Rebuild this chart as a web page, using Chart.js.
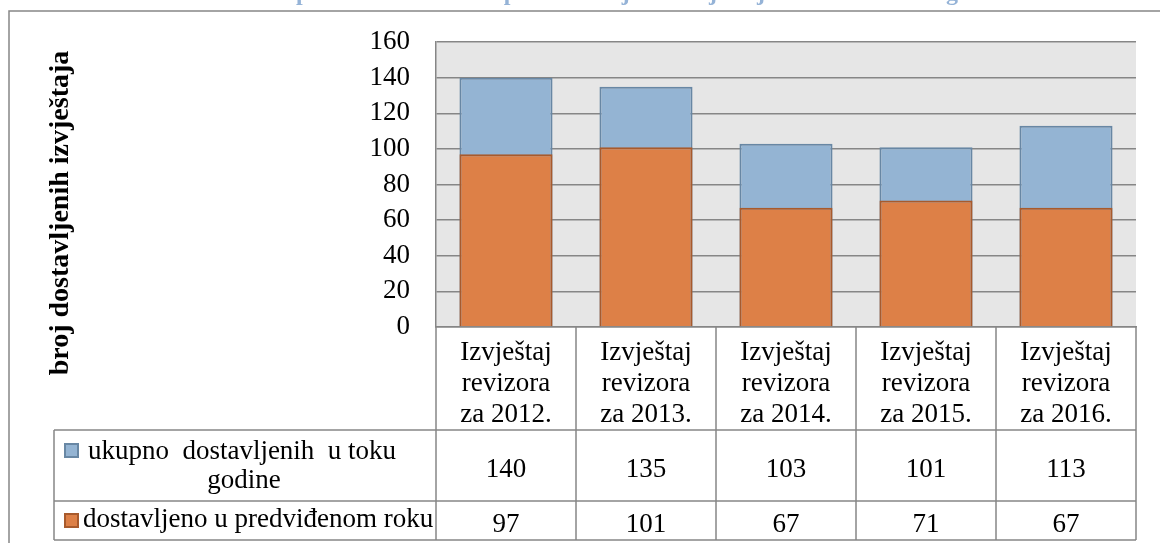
<!DOCTYPE html>
<html lang="hr">
<head>
<meta charset="utf-8">
<title>Dostavljeni izvještaji revizora</title>
<script src="https://cdn.jsdelivr.net/npm/chart.js@4.4.1/dist/chart.umd.min.js"></script>
<style>
  html, body { margin: 0; padding: 0; background: #fff; }
</style>
</head>
<body>
<canvas id="izvjestaji" width="1160" height="543"></canvas>
<script>
// Podaci sa grafikona
const naslov = "Prikaz pravovremeno i ukupno dostavljenih izvještaja revizora u toku godine";
const osY = "broj dostavljenih izvještaja";
const kategorije = [
  ["Izvještaj", "revizora", "za 2012."],
  ["Izvještaj", "revizora", "za 2013."],
  ["Izvještaj", "revizora", "za 2014."],
  ["Izvještaj", "revizora", "za 2015."],
  ["Izvještaj", "revizora", "za 2016."],
];
const ukupno = [140, 135, 103, 101, 113];
const uRoku = [97, 101, 67, 71, 67];
const legendaUkupno = ["ukupno  dostavljenih  u toku", "godine"];
const legendaURoku = "dostavljeno u predviđenom roku";
const yMin = 0;
const yMax = 160;
const yKorak = 20;

// Boje
const plava = "#94b4d3";
const plavaIvica = "#6887a4";
const narandzasta = "#dd8047";
const narandzastaIvica = "#a85a2c";
const linija = "#868686";
const font = "'Liberation Serif', 'Times New Roman', serif";

// Siva pozadina iza stubića
const pozadina = {
  id: "pozadina",
  beforeDraw(chart) {
    const { ctx, chartArea: a } = chart;
    ctx.save();
    ctx.fillStyle = "#e6e6e6";
    ctx.fillRect(a.left, a.top, a.right - a.left, a.bottom - a.top);
    ctx.restore();
  },
};

// Tabela sa podacima ispod grafikona, okvir, naslov ose i naslov
const tabela = {
  id: "tabela",
  afterDraw(chart) {
    const { ctx, chartArea: a } = chart;
    const x = chart.scales.x;
    const pola = (x.getPixelForValue(1) - x.getPixelForValue(0)) / 2;
    const red1 = 430;
    const red2 = 501;
    const dno = 540;
    const lijevo = 54;

    ctx.save();
    ctx.strokeStyle = linija;
    ctx.lineWidth = 1.5;
    ctx.beginPath();
    // okvir grafikona
    ctx.moveTo(9, 543);
    ctx.lineTo(9, 11);
    ctx.lineTo(1160, 11);
    // vertikalne linije tabele
    kategorije.forEach((k, i) => {
      const xi = x.getPixelForValue(i) - pola;
      ctx.moveTo(xi, a.bottom);
      ctx.lineTo(xi, dno);
    });
    const zadnja = x.getPixelForValue(kategorije.length - 1) + pola;
    ctx.moveTo(zadnja, a.bottom);
    ctx.lineTo(zadnja, dno);
    ctx.moveTo(lijevo, red1);
    ctx.lineTo(lijevo, dno);
    // horizontalne linije tabele
    [red1, red2, dno].forEach((y) => {
      ctx.moveTo(lijevo, y);
      ctx.lineTo(zadnja, y);
    });
    ctx.stroke();

    // vrijednosti
    ctx.fillStyle = "#000";
    ctx.font = "27px " + font;
    ctx.textAlign = "center";
    ctx.textBaseline = "alphabetic";
    ukupno.forEach((v, i) => ctx.fillText(v, x.getPixelForValue(i), 477));
    uRoku.forEach((v, i) => ctx.fillText(v, x.getPixelForValue(i), 532));

    // legenda u tabeli
    ctx.fillText(legendaUkupno[0], 242, 459);
    ctx.fillText(legendaUkupno[1], 244, 488);
    ctx.textAlign = "left";
    ctx.fillText(legendaURoku, 83, 527);

    ctx.lineWidth = 2;
    ctx.fillStyle = plava;
    ctx.strokeStyle = plavaIvica;
    ctx.fillRect(65, 444, 13, 13);
    ctx.strokeRect(65, 444, 13, 13);
    ctx.fillStyle = narandzasta;
    ctx.strokeStyle = narandzastaIvica;
    ctx.fillRect(65, 514, 13, 13);
    ctx.strokeRect(65, 514, 13, 13);

    // naslov ose Y
    ctx.save();
    ctx.translate(61, 213);
    ctx.rotate(-Math.PI / 2);
    ctx.fillStyle = "#000";
    ctx.font = "bold 28px " + font;
    ctx.textAlign = "center";
    ctx.textBaseline = "middle";
    ctx.fillText(osY, 0, 0);
    ctx.restore();

    // naslov (odsječen na vrhu)
    ctx.fillStyle = "#95b3d7";
    ctx.font = "bold 24px " + font;
    ctx.textAlign = "center";
    ctx.textBaseline = "alphabetic";
    ctx.fillText(naslov, 618, 0);
    ctx.restore();
  },
};

new Chart(document.getElementById("izvjestaji"), {
  type: "bar",
  data: {
    labels: kategorije,
    datasets: [
      {
        label: legendaUkupno.join(" "),
        data: ukupno,
        backgroundColor: plava,
        borderColor: plavaIvica,
        borderWidth: 2,
        order: 2,
      },
      {
        label: legendaURoku,
        data: uRoku,
        backgroundColor: narandzasta,
        borderColor: narandzastaIvica,
        borderWidth: 2,
        order: 1,
      },
    ],
  },
  options: {
    responsive: false,
    animation: false,
    devicePixelRatio: 1,
    categoryPercentage: 1,
    barPercentage: 0.665,
    layout: {
      padding: { top: 39, right: 24, bottom: 3, left: 0 },
    },
    plugins: {
      legend: { display: false },
      tooltip: { enabled: false },
      title: { display: false },
    },
    scales: {
      x: {
        stacked: true,
        grid: { display: false },
        border: { display: true, color: linija, width: 1.5 },
        ticks: {
          color: "#000",
          padding: 2,
          maxRotation: 0,
          autoSkip: false,
          font: { family: font, size: 27, lineHeight: 31 / 27 },
        },
        afterFit(scale) {
          scale.height = 213;
        },
      },
      y: {
        stacked: false,
        min: yMin,
        max: yMax,
        ticks: {
          stepSize: yKorak,
          padding: 26,
          color: "#000",
          font: { family: font, size: 27 },
        },
        grid: { color: linija, lineWidth: 1.5, drawTicks: false },
        border: { display: true, color: linija, width: 1.5 },
        afterFit(scale) {
          scale.width = 436;
        },
      },
    },
  },
  plugins: [pozadina, tabela],
});
</script>
</body>
</html>
